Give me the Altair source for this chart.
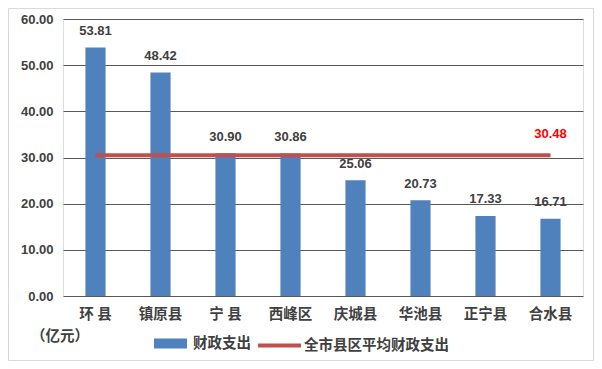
import altair as alt
import pandas as pd

categories = ["环 县", "镇原县", "宁 县", "西峰区", "庆城县", "华池县", "正宁县", "合水县"]
spending = [53.81, 48.42, 30.90, 30.86, 25.06, 20.73, 17.33, 16.71]
average = 30.48
y_ticks = [0, 10, 20, 30, 40, 50, 60]
bar_series = "财政支出"
avg_series = "全市县区平均财政支出"
unit_label = "（亿元）"

NUM_FONT = "Liberation Sans"
CJK_FONT = "Noto Sans CJK SC"
TXT = "#404040"
GRID = "#595959"
BLUE = "#4F81BD"
RED = "#C0504D"

bars_df = pd.DataFrame({"county": categories, "value": spending, "series": bar_series})
avg_df = pd.DataFrame({"county": categories, "value": [average] * len(categories), "series": avg_series})
avg_label_df = avg_df.tail(1)
one_row = pd.DataFrame({"a": [0]})

x_enc = alt.X(
    "county:N",
    sort=categories,
    scale=alt.Scale(paddingInner=0.69, paddingOuter=0.345),
    axis=alt.Axis(
        title=None, labelAngle=0, labelFont=CJK_FONT, labelFontSize=14.5,
        labelFontWeight="bold", labelColor=TXT, labelPadding=11,
        domain=False, ticks=False, grid=False,
    ),
)
y_enc = alt.Y(
    "value:Q",
    scale=alt.Scale(domain=[0, 60], nice=False),
    axis=alt.Axis(
        title=None, values=y_ticks, format=".2f", labelFont=NUM_FONT,
        labelFontSize=13, labelFontWeight="bold", labelColor=TXT,
        labelPadding=10, domain=False, ticks=False, grid=True,
        gridColor=GRID, gridWidth=1,
    ),
)

border = alt.Chart(one_row).mark_rect(
    fill="white", fillOpacity=0, stroke="#d9d9d9", strokeWidth=1
).encode(
    x=alt.value(-54.5), x2=alt.value(530.5), y=alt.value(-10.5), y2=alt.value(341.5)
)

bars = alt.Chart(bars_df).mark_bar().encode(
    x=x_enc,
    y=y_enc,
    fill=alt.Fill(
        "series:N",
        scale=alt.Scale(domain=[bar_series], range=[BLUE]),
        legend=alt.Legend(
            title=None, orient="none", legendX=91, legendY=308, padding=0,
            symbolType="M-1,-0.3H1V0.3H-1Z", symbolSize=1089,
            symbolStrokeWidth=0, labelFont=CJK_FONT, labelFontSize=14.5,
            labelFontWeight="bold", labelColor=TXT, labelOffset=6,
        ),
    ),
)

line = alt.Chart(avg_df).mark_line(strokeWidth=4).encode(
    x=x_enc,
    y=y_enc,
    stroke=alt.Stroke(
        "series:N",
        scale=alt.Scale(domain=[avg_series], range=[RED]),
        legend=alt.Legend(
            title=None, orient="none", legendX=193, legendY=303, padding=0,
            symbolType="stroke", symbolSize=1849, symbolStrokeWidth=4,
            labelFont=CJK_FONT, labelFontSize=14.5, labelFontWeight="bold",
            labelColor=TXT, labelOffset=1,
        ),
    ),
)

bar_labels = alt.Chart(bars_df).mark_text(
    font=NUM_FONT, fontSize=13, fontWeight="bold", color=TXT,
    baseline="alphabetic", dy=-12.5,
).encode(x=x_enc, y=y_enc, text=alt.Text("value:Q", format=".2f"))

avg_label = alt.Chart(avg_label_df).mark_text(
    font=NUM_FONT, fontSize=13, fontWeight="bold", color="#FF0000",
    baseline="alphabetic", dy=-17,
).encode(x=x_enc, y=y_enc, text=alt.Text("value:Q", format=".2f"))

unit = alt.Chart(one_row).mark_text(
    font=CJK_FONT, fontSize=14.5, fontWeight="bold", color=TXT,
    align="left", baseline="middle",
).encode(x=alt.value(-32), y=alt.value(318), text=alt.value(unit_label))

chart = alt.layer(border, bars, line, bar_labels, avg_label, unit).properties(
    width=520,
    height=277,
    padding={"left": 55, "top": 11, "right": 11, "bottom": 65},
    autosize=alt.AutoSizeParams(type="none"),
).configure_view(stroke=GRID, strokeWidth=1).configure(background="white")

chart.save("out.html", embed_options={"renderer": "svg", "actions": False})
